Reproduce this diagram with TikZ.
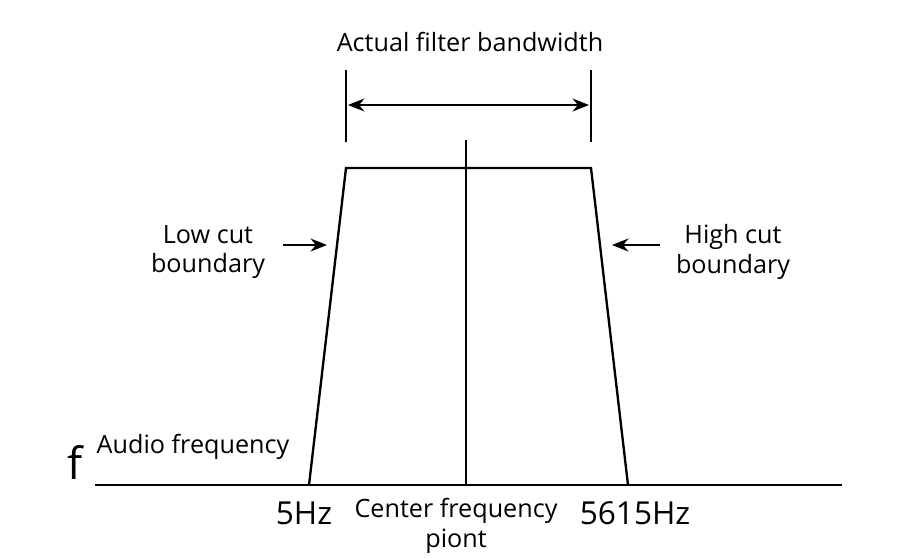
\documentclass[tikz,border=0pt]{standalone}
\usepackage{fontspec}
\setmainfont{Open Sans}
\usetikzlibrary{arrows.meta}
\begin{document}
\begin{tikzpicture}[x=0.03cm,y=-0.03cm,
  ln/.style={line width=2pt,black},
  arr/.style={ln,-{Stealth[length=14pt,width=11pt]}},
  lbl/.style={font=\fontsize{21.5}{25.5}\selectfont,align=center,inner sep=0pt},
  big/.style={font=\fontsize{27}{31}\selectfont,inner sep=0pt}]
\path[use as bounding box] (0,0) rectangle (906,558);
\coordinate (b0) at (95,485); \coordinate (b1) at (842,485);
\coordinate (p1) at (309,485); \coordinate (p2) at (346,168);
\coordinate (p3) at (591,168); \coordinate (p4) at (628,485);
\coordinate (c0) at (466,140); \coordinate (c1) at (466,485);
\coordinate (t1a) at (346,70); \coordinate (t1b) at (346,142);
\coordinate (t2a) at (591,70); \coordinate (t2b) at (591,142);
\coordinate (a1) at (348,105); \coordinate (a2) at (589,105);
\draw[ln] (b0) -- (b1);
\draw[ln] (p1) -- (p2) -- (p3) -- (p4);
\draw[ln] (c0) -- (c1);
\draw[ln] (t1a) -- (t1b);
\draw[ln] (t2a) -- (t2b);
\draw[ln,{Stealth[length=14pt,width=11pt]}-{Stealth[length=14pt,width=11pt]}] (a1) -- (a2);
\node[lbl] (title) at (470,42) {Actual filter bandwidth};
\node[lbl] (low) at (208,252) {Low cut\\boundary};
\node[lbl] (high) at (733,252) {High cut\\boundary};
\coordinate (la) at (283,245); \coordinate (lb) at (327,245);
\coordinate (ha) at (660,245); \coordinate (hb) at (612,245);
\draw[arr] (la) -- (lb);
\draw[arr] (ha) -- (hb);
\node[font=\fontsize{38}{44}\selectfont,inner sep=0pt] (f) at (75,462) {f};
\node[lbl] (audio) at (193,447) {Audio frequency};
\node[big] (lo) at (304,513) {5Hz};
\node[big] (hi) at (635,513) {5615Hz};
\node[lbl] (cf) at (456,526) {Center frequency\\piont};
\end{tikzpicture}
\end{document}
